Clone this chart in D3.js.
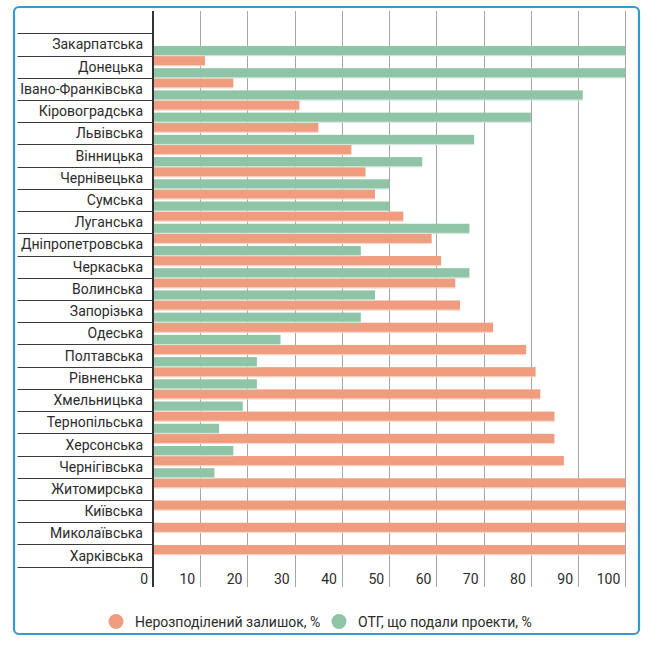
<!DOCTYPE html>
<html><head><meta charset="utf-8">
<script src="https://cdn.jsdelivr.net/npm/d3@7"></script>
<style>
html,body{margin:0;padding:0;background:#fff;}
svg{display:block;font-family:Roboto, "Noto Sans", sans-serif;}
</style></head>
<body>
<svg id="chart" width="657" height="646"></svg>
<script>
const categories = ["Закарпатська","Донецька","Івано-Франківська","Кіровоградська","Львівська","Вінницька","Чернівецька","Сумська","Луганська","Дніпропетровська","Черкаська","Волинська","Запорізька","Одеська","Полтавська","Рівненська","Хмельницька","Тернопільська","Херсонська","Чернігівська","Житомирська","Київська","Миколаївська","Харківська"];
const remainder = [0,11,17,31,35,42,45,47,53,59,61,64,65,72,79,81,82,85,85,87,100,100,100,100];
const projects  = [100,100,91,80,68,57,50,50,67,44,67,47,44,27,22,22,19,14,17,13,0,0,0,0];
const tickValues = [0,10,20,30,40,50,60,70,80,90,100];
const seriesNames = ["Нерозподілений залишок, %","ОТГ, що подали проекти, %"];
const colors = ["#f09c7e","#8fc4a7"];
const shadeColors = ["#f8d6c9","#cfe6da"];

const svg = d3.select("#chart");

// frame
svg.append("rect").attr("x",14).attr("y",7).attr("width",625).attr("height",627)
  .attr("rx",5).attr("fill","none").attr("stroke","#3598cf").attr("stroke-width",2.2);

const x = d3.scaleLinear().domain([0,100]).range([153,625.3]);
const y = d3.scaleBand().domain(categories).range([33.3,566.7]).padding(0);
const sub = d3.scaleBand().domain([0,1]).range([0,y.bandwidth()]).paddingInner(0.25).paddingOuter(0.04);

const plotTop = 11, plotBottom = 587;

// gridlines
svg.append("g").selectAll("line").data(tickValues.filter(v=>v>0)).join("line")
  .attr("x1",d=>Math.round(x(d))+0.5).attr("x2",d=>Math.round(x(d))+0.5)
  .attr("y1",plotTop).attr("y2",plotBottom).attr("stroke","#a6a6a6").attr("stroke-width",1);

// row separators
const seps = categories.map(c=>y(c)).concat([y.range()[1]]);
svg.append("g").selectAll("line").data(seps).join("line")
  .attr("x1",17.5).attr("x2",153).attr("y1",d=>Math.round(d)+0.5).attr("y2",d=>Math.round(d)+0.5)
  .attr("stroke","#3a3a3a").attr("stroke-width",1);

// bars
const series = [remainder, projects];
series.forEach((vals,si)=>{
  const g = svg.append("g");
  const data = categories.map((c,i)=>({c, v: vals[i]})).filter(d=>d.v>0);
  g.selectAll("rect.shade").data(data).join("rect").attr("class","shade")
    .attr("x",x(0)).attr("y",d=>y(d.c)+sub(si)+sub.bandwidth())
    .attr("width",d=>x(d.v)-x(0)).attr("height",1.2).attr("fill",shadeColors[si]);
  g.selectAll("rect.bar").data(data).join("rect").attr("class","bar")
    .attr("x",x(0)).attr("y",d=>y(d.c)+sub(si))
    .attr("width",d=>x(d.v)-x(0)).attr("height",sub.bandwidth()).attr("fill",colors[si]);
});

// vertical axis line
svg.append("line").attr("x1",x(0)).attr("x2",x(0)).attr("y1",plotTop).attr("y2",plotBottom)
  .attr("stroke","#333").attr("stroke-width",2);

// category labels
svg.append("g").selectAll("text").data(categories).join("text")
  .attr("x",143).attr("y",d=>y(d)+y.bandwidth()/2).attr("dy","0.36em")
  .attr("text-anchor","end").attr("font-size",14).attr("fill","#2b2b2b").text(d=>d);

// tick labels
svg.append("g").selectAll("text").data(tickValues).join("text")
  .attr("x",d=>x(d)-5).attr("y",584)
  .attr("text-anchor","end").attr("font-size",14).attr("fill","#2b2b2b").text(d=>d);

// legend
const legX = [116, 339];
const lg = svg.append("g");
seriesNames.forEach((n,i)=>{
  lg.append("circle").attr("cx",legX[i]).attr("cy",621.5).attr("r",7.5).attr("fill",colors[i]);
  lg.append("text").attr("x",legX[i]+19).attr("y",621.5).attr("dy","0.36em")
    .attr("font-size",14).attr("fill","#2b2b2b").text(n);
});
</script>
</body></html>
